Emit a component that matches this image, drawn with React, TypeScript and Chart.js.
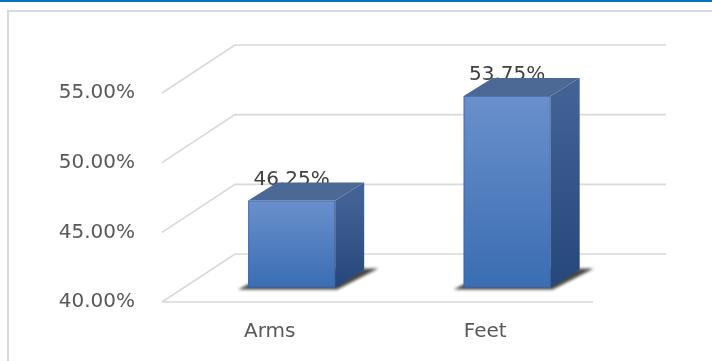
import React, { useEffect, useRef } from 'react';
import { Chart, registerables } from 'chart.js';
Chart.register(...registerables);

const categories = ['Arms', 'Feet'];
const values = [46.25, 53.75];
const yMin = 40;
const yMax = 55;
const yStep = 5;

const FONT_FAMILY = '"DejaVu Sans", sans-serif';
const WALL_DX = 73;
const WALL_DY = -48;
const BAR_POS = 0.3;
const BAR_DX = 29;
const BAR_DY = -18;

const fmtPct = (v: number) => v.toFixed(2) + '%';

const plugin3d = {
  id: 'threeD',
  beforeDraw(chart: any) {
    const { ctx, chartArea: a, scales } = chart;
    const y = scales.y;
    const W = chart.width;
    const H = chart.height;
    ctx.save();
    ctx.fillStyle = '#ffffff';
    ctx.fillRect(0, 0, W, H);
    ctx.strokeStyle = '#0070C0';
    ctx.lineWidth = 2;
    ctx.beginPath();
    ctx.moveTo(0, 1);
    ctx.lineTo(W, 1);
    ctx.stroke();
    ctx.strokeStyle = '#D9D9D9';
    ctx.lineWidth = 2;
    ctx.beginPath();
    ctx.moveTo(8, H);
    ctx.lineTo(8, 11);
    ctx.lineTo(W, 11);
    ctx.stroke();
    ctx.strokeStyle = '#D9D9D9';
    ctx.lineWidth = 1.6;
    y.ticks.forEach((t: any) => {
      const py = y.getPixelForValue(t.value);
      ctx.beginPath();
      ctx.moveTo(a.left, py);
      ctx.lineTo(a.left + WALL_DX, py + WALL_DY);
      ctx.lineTo(a.right + WALL_DX, py + WALL_DY);
      if (t.value === y.min) {
        ctx.moveTo(a.left, py);
        ctx.lineTo(a.right, py);
      }
      ctx.stroke();
    });
    ctx.restore();
  },
  afterDatasetsDraw(chart: any) {
    const { ctx } = chart;
    const yScale = chart.scales.y;
    const meta = chart.getDatasetMeta(0);
    const ox = BAR_POS * WALL_DX;
    const oy = BAR_POS * WALL_DY;
    const data = chart.data.datasets[0].data as number[];
    const basePx = yScale.getPixelForValue(yScale.min);
    ctx.save();
    meta.data.forEach((el: any, i: number) => {
      const p = el.getProps(['x', 'y', 'width'], true);
      const x0 = p.x - p.width / 2 + ox;
      const x1 = p.x + p.width / 2 + ox;
      const t = p.y + oy;
      const b = basePx + oy;
      ctx.fillStyle = '#404040';
      ctx.font = '20px ' + FONT_FAMILY;
      ctx.textAlign = 'center';
      ctx.textBaseline = 'alphabetic';
      ctx.fillText(fmtPct(data[i]), p.x + ox, t - 16);
      ctx.save();
      ctx.filter = 'blur(1.5px)';
      ctx.fillStyle = 'rgba(25,25,25,0.8)';
      ctx.beginPath();
      ctx.moveTo(x0 - 10, b + 2);
      ctx.lineTo(x1 + 2, b + 2);
      ctx.lineTo(x1 + BAR_DX + 14, b + BAR_DY - 1);
      ctx.lineTo(x0 + BAR_DX, b + BAR_DY);
      ctx.closePath();
      ctx.fill();
      ctx.restore();
      const gs = ctx.createLinearGradient(0, t, 0, b);
      gs.addColorStop(0, 'rgb(66,97,148)');
      gs.addColorStop(1, 'rgb(38,71,123)');
      ctx.fillStyle = gs;
      ctx.beginPath();
      ctx.moveTo(x1, t);
      ctx.lineTo(x1 + BAR_DX, t + BAR_DY);
      ctx.lineTo(x1 + BAR_DX, b + BAR_DY);
      ctx.lineTo(x1, b);
      ctx.closePath();
      ctx.fill();
      ctx.fillStyle = 'rgb(76,105,150)';
      ctx.beginPath();
      ctx.moveTo(x0, t);
      ctx.lineTo(x0 + BAR_DX, t + BAR_DY);
      ctx.lineTo(x1 + BAR_DX, t + BAR_DY);
      ctx.lineTo(x1, t);
      ctx.closePath();
      ctx.fill();
      const gf = ctx.createLinearGradient(0, t, 0, b);
      gf.addColorStop(0, 'rgb(106,144,204)');
      gf.addColorStop(1, 'rgb(58,109,178)');
      ctx.fillStyle = gf;
      ctx.fillRect(x0, t, x1 - x0, b - t);
      ctx.strokeStyle = 'rgba(60,95,150,0.6)';
      ctx.lineWidth = 1;
      ctx.strokeRect(x0 + 0.5, t + 0.5, x1 - x0 - 1, b - t - 1);
    });
    ctx.restore();
  },
};

export default function App() {
  const ref = useRef<HTMLCanvasElement>(null);
  useEffect(() => {
    if (!ref.current) return;
    const chart = new Chart(ref.current, {
      type: 'bar',
      data: {
        labels: categories,
        datasets: [
          {
            data: values,
            backgroundColor: 'rgba(0,0,0,0)',
            borderWidth: 0,
            categoryPercentage: 1,
            barPercentage: 0.404,
          },
        ],
      },
      options: {
        responsive: false,
        animation: false,
        layout: { padding: { top: 93, right: 119, left: 0, bottom: 0 } },
        plugins: { legend: { display: false }, tooltip: { enabled: false } },
        scales: {
          x: {
            grid: { display: false, drawTicks: false },
            border: { display: false },
            ticks: { font: { family: FONT_FAMILY, size: 20 }, color: '#595959', padding: 18 },
            afterFit(s: any) {
              s.height = 59;
            },
          },
          y: {
            min: yMin,
            max: yMax,
            grid: { display: false, drawTicks: false },
            border: { display: false },
            ticks: {
              stepSize: yStep,
              font: { family: FONT_FAMILY, size: 20 },
              color: '#595959',
              padding: 27,
              callback: (v: any) => fmtPct(Number(v)),
            },
            afterFit(s: any) {
              s.width = 162;
            },
          },
        },
      },
      plugins: [plugin3d],
    } as any);
    return () => chart.destroy();
  }, []);
  return (
    <div style={{ position: 'fixed', left: 0, top: 0, width: 712, height: 361, background: '#fff' }}>
      <canvas ref={ref} width={712} height={361} style={{ display: 'block' }} />
    </div>
  );
}
